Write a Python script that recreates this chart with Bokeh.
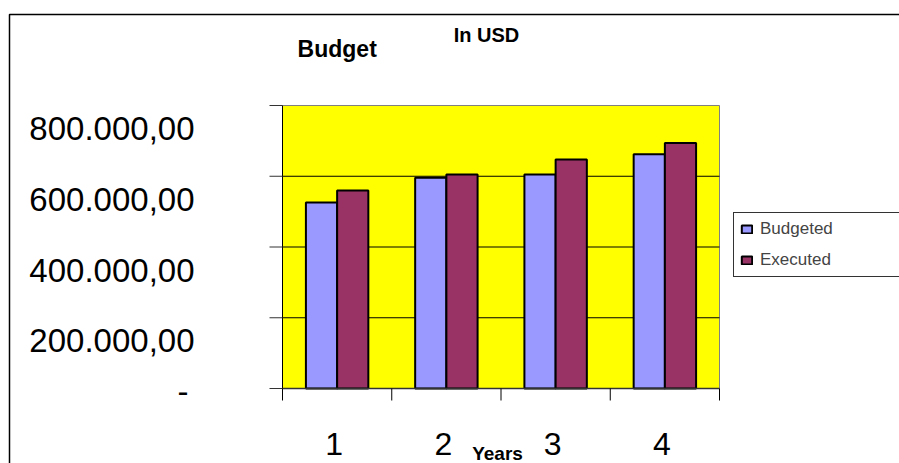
import numpy as np
from bokeh.plotting import figure
from bokeh.models import (Range1d, ColumnDataSource, Legend, LegendItem, Label, BoxAnnotation)
from bokeh.core.properties import value
from bokeh.transform import dodge
from bokeh.embed import file_html
from bokeh.resources import INLINE

# ---- data ----
years = ["1", "2", "3", "4"]
budgeted = [526000, 596000, 605000, 662000]
executed = [560000, 605000, 647000, 694000]
y_ticks = [0, 200000, 400000, 600000, 800000]
y_tick_labels = ["-", "200.000,00", "400.000,00", "600.000,00", "800.000,00"]
series_names = ["Budgeted", "Executed"]
title_text = "Budget"
subtitle_text = "In USD"
x_title = "Years"

# ---- layout / style ----
FONT = "Liberation Sans"
W, H = 899, 463
FL, FR, FT, FB = 282, 719, 105, 388          # plot-area edges in canvas px
n = len(years)
x_lo, x_hi = 0.5, n + 0.5
y_lo, y_hi = y_ticks[0], y_ticks[-1]
px_x = (FR - FL) / (x_hi - x_lo)
px_y = (FB - FT) / (y_hi - y_lo)
x_range = Range1d(x_lo - FL / px_x, x_hi + (W - FR) / px_x)
y_range = Range1d(y_lo - (H - FB) / px_y, y_hi + FT / px_y)

p = figure(width=W, height=H, output_backend="svg", toolbar_location=None,
           x_range=x_range, y_range=y_range, min_border=0,
           x_axis_location=None, y_axis_location=None)
p.outline_line_color = None
p.background_fill_color = "white"
p.border_fill_color = "white"
p.grid.visible = False

# plot area
p.quad(left=x_lo, right=x_hi, bottom=y_lo, top=y_hi,
       fill_color="#FFFF00", line_color="#808080", line_width=1)

# horizontal gridlines
inner = [t for t in y_ticks if y_lo < t < y_hi]
p.segment(x0=[x_lo] * len(inner), x1=[x_hi] * len(inner), y0=inner, y1=inner,
          line_color="black", line_width=1)

# bars
pos = list(range(1, n + 1))
src = ColumnDataSource(dict(x=pos, budgeted=budgeted, executed=executed))
bar_w = 1 / 3.5
r1 = p.vbar(x=dodge("x", -bar_w / 2), top="budgeted", width=bar_w, bottom=y_lo, source=src,
            fill_color="#9999FF", line_color="black", line_width=2)
r2 = p.vbar(x=dodge("x", bar_w / 2), top="executed", width=bar_w, bottom=y_lo, source=src,
            fill_color="#993366", line_color="black", line_width=2)

# y axis: line, outward ticks, labels (drawn below their ticks as in the reference)
p.segment(x0=[x_lo], x1=[x_lo], y0=[y_lo], y1=[y_hi], line_color="black", line_width=1)
p.ray(x=[x_lo] * len(y_ticks), y=y_ticks, length=13, length_units="screen",
      angle=np.pi, line_color="#333333", line_width=1)
ylab = ColumnDataSource(dict(
    x=[x_lo] * len(y_ticks), y=y_ticks, text=y_tick_labels,
    dx=[-88 if t else -94 for t in y_ticks],
    dy=[23 if t else 3 for t in y_ticks]))
p.text(x="x", y="y", text="text", x_offset="dx", y_offset="dy", source=ylab,
       text_align="right", text_baseline="middle", text_font=value(FONT),
       text_font_size="33px", text_color="black")

# x axis: line, outward ticks at category boundaries, labels at centres
bounds = [i + 0.5 for i in range(n + 1)]
p.segment(x0=[x_lo], x1=[x_hi], y0=[y_lo], y1=[y_lo], line_color="#333333", line_width=1.5)
p.ray(x=bounds, y=[y_lo] * len(bounds), length=12, length_units="screen",
      angle=-np.pi / 2, line_color="black", line_width=1)
p.text(x=pos, y=[y_lo] * n, text=years, x_offset=-3, y_offset=55,
       text_align="center", text_baseline="middle", text_font=value(FONT),
       text_font_size="32px", text_color="black")

# titles (screen units measured from bottom-left of the canvas)
def screen_label(text, cx, cy, size):
    return Label(x=cx, y=H - cy, x_units="screen", y_units="screen", text=text,
                 text_align="center", text_baseline="middle", text_font=FONT,
                 text_font_size=size, text_font_style="bold", text_color="black")

p.add_layout(screen_label(title_text, 336.7, 48, "23px"))
p.add_layout(screen_label(subtitle_text, 486, 34, "20px"))
p.add_layout(screen_label(x_title, 497, 453, "19px"))

# legend
legend = Legend(items=[LegendItem(label=series_names[0], renderers=[r1]),
                       LegendItem(label=series_names[1], renderers=[r2])],
                location=(733, H - 277), orientation="vertical",
                label_text_font=FONT, label_text_font_size="17px",
                glyph_width=13, glyph_height=10, label_height=18, label_width=140,
                label_standoff=7, spacing=11, padding=6, margin=0,
                border_line_color="#333333", border_line_width=1, border_line_alpha=1,
                background_fill_color="white", background_fill_alpha=1)
p.add_layout(legend, "center")

# outer chart border (only its top and left edges lie inside the window)
p.add_layout(BoxAnnotation(left=9, right=W + 20, top=H - 14, bottom=-20,
                           left_units="screen", right_units="screen",
                           top_units="screen", bottom_units="screen",
                           fill_alpha=0, line_color="black", line_alpha=1, line_width=1.5))

open("out.html", "w").write(file_html(p, INLINE))
